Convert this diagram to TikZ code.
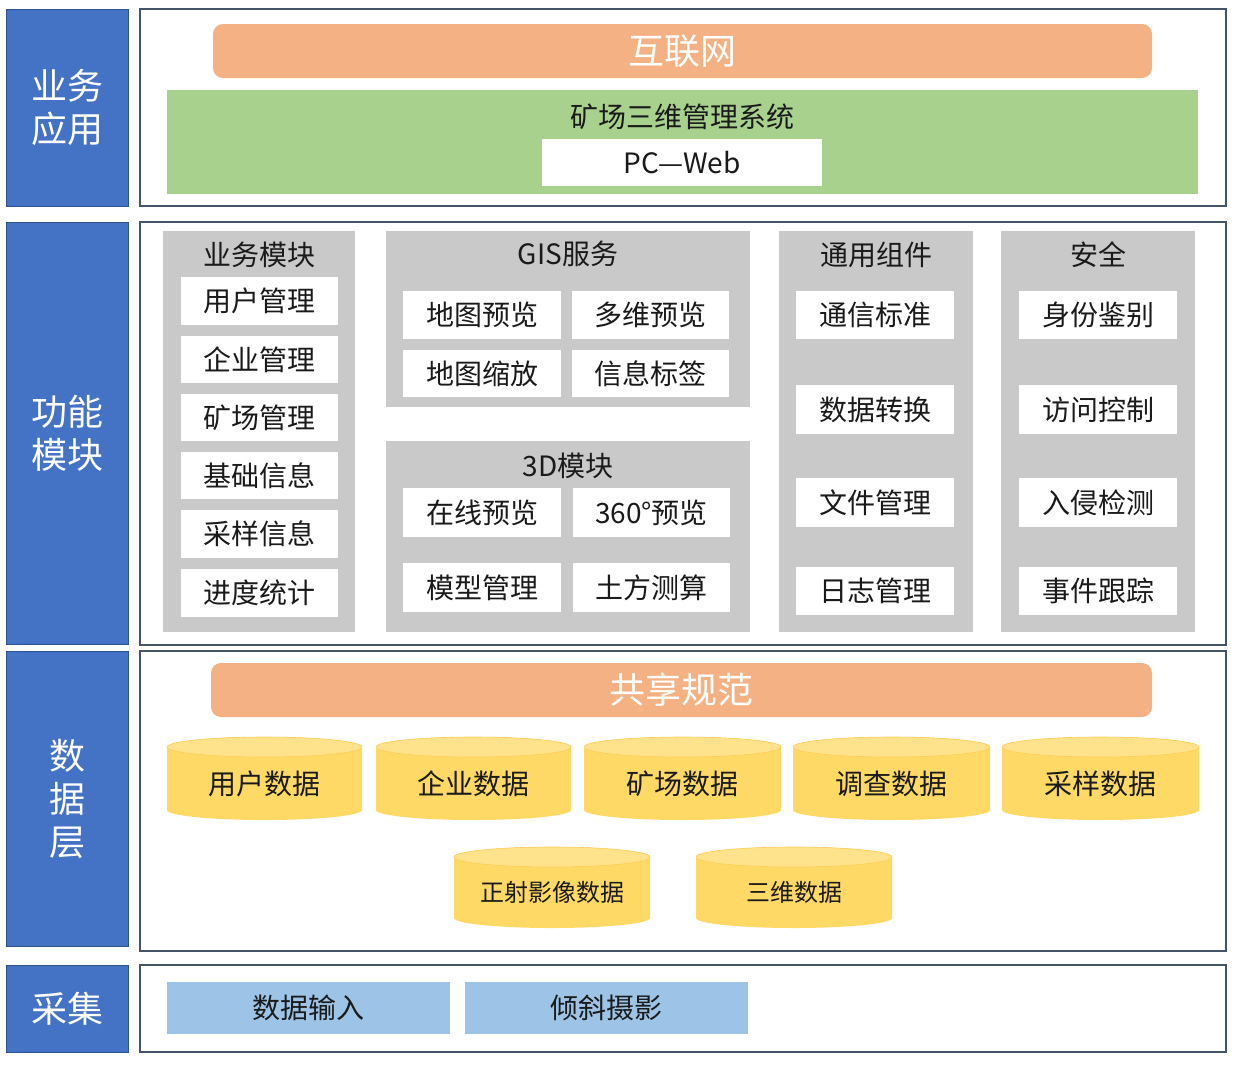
\documentclass[tikz,border=0pt]{standalone}
\usepackage{fontspec}
\setmainfont{Noto Sans CJK SC}
\definecolor{lblue}{HTML}{4472C4}
\definecolor{lblueedge}{HTML}{2F528F}
\definecolor{frameedge}{HTML}{44546A}
\definecolor{orng}{HTML}{F4B183}
\definecolor{grn}{HTML}{A9D18E}
\definecolor{gry}{HTML}{C9C9C9}
\definecolor{cylb}{HTML}{FFD966}
\definecolor{cylt}{HTML}{FFE38C}
\definecolor{capt}{HTML}{9DC3E6}
\definecolor{ink}{HTML}{1A1A1A}
\tikzset{
  box/.style={rectangle, inner sep=0pt, outer sep=0pt},
  sidebox/.style={box, fill=lblue, draw=lblueedge, line width=1pt, text=white, align=center, font=\fontsize{36}{43}\selectfont},
  framebox/.style={box, draw=frameedge, line width=2pt, fill=white},
  bar/.style={box, fill=orng, rounded corners=10pt, text=white, font=\fontsize{36}{43}\selectfont},
  greenbox/.style={box, fill=grn},
  whitebox/.style={box, fill=white, text=ink, font=\fontsize{28}{32}\selectfont},
  graybox/.style={box, fill=gry},
  title/.style={inner sep=0pt, text=ink, font=\fontsize{28}{32}\selectfont},
  cylbody/.style={fill=cylb},
  cyltop/.style={fill=cylt, draw=cylb!85!orange, line width=0.6pt},
  cyltext/.style={inner sep=0pt, text=ink},
  capbox/.style={box, fill=capt, text=ink, font=\fontsize{28}{32}\selectfont},
}
\newcommand\bx[7]{%
  \pgfmathsetmacro\bxw{#4-#2}\pgfmathsetmacro\bxh{#5-#3}%
  \pgfmathsetmacro\bxcx{(#2+#4)/2}\pgfmathsetmacro\bxcy{(#3+#5)/2}%
  \node[#6, minimum width=\bxw pt, minimum height=\bxh pt] (#1) at (\bxcx,\bxcy) {#7};}
\newcommand\cyl[7]{%
  \pgfmathsetmacro\cyrx{(#4-#2)/2}\pgfmathsetmacro\cycx{(#2+#4)/2}%
  \pgfmathsetmacro\cycy{(#3+10+#5)/2}%
  \fill[cylbody] (#2,#3+10) -- (#2,#5-10) arc[start angle=180,end angle=360,x radius=\cyrx pt,y radius=10pt] -- (#4,#3+10) arc[start angle=0,end angle=180,x radius=\cyrx pt,y radius=10pt] -- cycle;
  \filldraw[cyltop] (\cycx,#3+10) ellipse[x radius=\cyrx pt, y radius=10pt];
  \node[cyltext, font=\fontsize{#6}{#6}\selectfont] (#1) at (\cycx,\cycy) {#7};}
\begin{document}
\begin{tikzpicture}[x=1pt,y=-1pt]
\fill[white] (0,0) rectangle (1236,1068);
\useasboundingbox (0,0) rectangle (1236,1068);
% side labels
\bx{s1}{6}{9}{128}{206}{sidebox}{业务\\应用}
\bx{s2}{6}{222}{128}{644}{sidebox}{功能\\模块}
\bx{s3}{6}{651}{128}{946}{sidebox}{数\\据\\层}
\bx{s4}{6}{965}{128}{1052}{sidebox}{采集}
% frames
\bx{f1}{140}{9}{1226}{206}{framebox}{}
\bx{f2}{140}{222}{1226}{645}{framebox}{}
\bx{f3}{140}{651}{1226}{951}{framebox}{}
\bx{f4}{140}{965}{1226}{1052}{framebox}{}
% layer 1
\bx{internet}{213}{24}{1152}{78}{bar}{互联网}
\bx{sys}{167}{90}{1198}{194}{greenbox}{}
\node[title] (systitle) at (682,117) {矿场三维管理系统};
\bx{pcweb}{542}{139}{822}{186}{whitebox}{PC—Web}
% layer 2: business module
\bx{g1}{163}{231}{355}{632}{graybox}{}
\node[title] (g1t) at (259,255) {业务模块};
\bx{b1}{181}{277}{338}{325}{whitebox}{用户管理}
\bx{b2}{181}{336}{338}{383}{whitebox}{企业管理}
\bx{b3}{181}{394}{338}{441}{whitebox}{矿场管理}
\bx{b4}{181}{452}{338}{499}{whitebox}{基础信息}
\bx{b5}{181}{510}{338}{558}{whitebox}{采样信息}
\bx{b6}{181}{569}{338}{617}{whitebox}{进度统计}
% GIS
\bx{g2}{386}{231}{750}{407}{graybox}{}
\node[title] (g2t) at (568,254) {GIS服务};
\bx{gis1}{403}{291}{561}{339}{whitebox}{地图预览}
\bx{gis2}{572}{291}{729}{339}{whitebox}{多维预览}
\bx{gis3}{403}{350}{561}{397}{whitebox}{地图缩放}
\bx{gis4}{572}{350}{729}{397}{whitebox}{信息标签}
% 3D
\bx{g3}{386}{441}{750}{632}{graybox}{}
\node[title] (g3t) at (568,466) {3D模块};
\bx{d1}{403}{488}{561}{537}{whitebox}{在线预览}
\bx{d2}{573}{488}{730}{537}{whitebox}{360°预览}
\bx{d3}{403}{563}{561}{612}{whitebox}{模型管理}
\bx{d4}{573}{563}{730}{612}{whitebox}{土方测算}
% common components
\bx{g4}{779}{231}{973}{632}{graybox}{}
\node[title] (g4t) at (876,255) {通用组件};
\bx{c1}{796}{291}{954}{339}{whitebox}{通信标准}
\bx{c2}{796}{385}{954}{434}{whitebox}{数据转换}
\bx{c3}{796}{478}{954}{527}{whitebox}{文件管理}
\bx{c4}{796}{567}{954}{615}{whitebox}{日志管理}
% security
\bx{g5}{1001}{231}{1195}{632}{graybox}{}
\node[title] (g5t) at (1098,255) {安全};
\bx{a1}{1019}{291}{1177}{339}{whitebox}{身份鉴别}
\bx{a2}{1019}{385}{1177}{434}{whitebox}{访问控制}
\bx{a3}{1019}{478}{1177}{527}{whitebox}{入侵检测}
\bx{a4}{1019}{567}{1177}{615}{whitebox}{事件跟踪}
% layer 3
\bx{share}{211}{663}{1152}{717}{bar}{共享规范}
\cyl{db1}{167}{737}{362}{820}{28}{用户数据}
\cyl{db2}{376}{737}{571}{820}{28}{企业数据}
\cyl{db3}{584}{737}{781}{820}{28}{矿场数据}
\cyl{db4}{793}{737}{990}{820}{28}{调查数据}
\cyl{db5}{1002}{737}{1199}{820}{28}{采样数据}
\cyl{db6}{454}{847}{650}{928}{24}{正射影像数据}
\cyl{db7}{696}{847}{892}{928}{24}{三维数据}
% layer 4
\bx{in1}{167}{982}{450}{1034}{capbox}{数据输入}
\bx{in2}{465}{982}{748}{1034}{capbox}{倾斜摄影}
\end{tikzpicture}
\end{document}
